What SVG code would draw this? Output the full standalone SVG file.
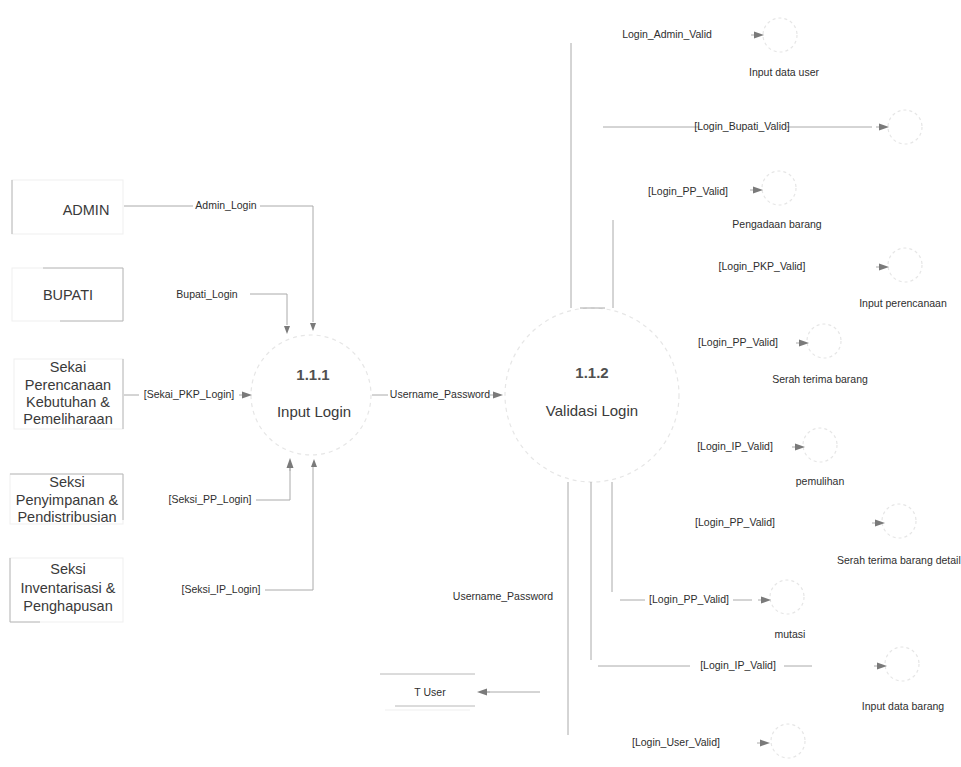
<svg xmlns="http://www.w3.org/2000/svg" width="961" height="767" viewBox="0 0 961 767">
  <style>
    text { font-family: "Liberation Sans", Arial, sans-serif; fill: #2e2e2e; }
    .lbl { font-size: 10.5px; text-anchor: middle; }
    .cap { font-size: 10.5px; text-anchor: middle; }
    .ent { font-size: 14.5px; text-anchor: middle; fill: #3a3a3a; }
    .num { font-size: 15px; text-anchor: middle; font-weight: bold; fill: #505050; }
    .pname { font-size: 15px; text-anchor: middle; fill: #3a3a3a; }
    .ln { fill: none; stroke: #aaa; stroke-width: 1; }
    .side { fill: none; stroke: #b8b8b8; stroke-width: 1; }
    .faint { fill: none; stroke: #efefef; stroke-width: 1; }
    .proc { fill: none; stroke: #e6e6e6; stroke-width: 1.2; stroke-dasharray: 4 4; }
    .mini { fill: none; stroke: #e6e6e6; stroke-width: 1.2; stroke-dasharray: 3 3; }
    .ah { fill: #7a7a7a; }
  </style>
  <defs>
    <!-- arrow head pointing along +x, tip at origin -->
    <g id="ar">
      <path d="M-13,0 H-9" stroke="#aaa" stroke-width="1"/>
      <path class="ah" d="M-10,-3.5 L0,0 L-10,3.5 Z"/>
    </g>
    <path id="arS" class="ah" d="M-8,-3 L0,0 L-8,3 Z"/>
  </defs>

  <!-- external entities -->
  <g id="admin">
    <rect class="faint" x="12" y="180" width="111" height="54"/>
    <path class="side" d="M12,180 V234"/>
    <text class="ent" x="86" y="215">ADMIN</text>
  </g>
  <g id="bupati">
    <rect class="faint" x="12" y="268" width="111" height="53"/>
    <path class="side" d="M43,268 H123 V321 H60"/>
    <text class="ent" x="68" y="300">BUPATI</text>
  </g>
  <g id="seksi-pkp">
    <rect class="faint" x="14" y="359" width="109" height="70"/>
    <path class="side" d="M123,359 V429"/>
    <text class="ent" x="68" y="372">Sekai</text>
    <text class="ent" x="68" y="390">Perencanaan</text>
    <text class="ent" x="68" y="407">Kebutuhan &amp;</text>
    <text class="ent" x="68" y="424">Pemeliharaan</text>
  </g>
  <g id="seksi-pp">
    <rect class="faint" x="10" y="474" width="113" height="50"/>
    <path class="side" d="M10,474 H123 V520"/>
    <text class="ent" x="67" y="487">Seksi</text>
    <text class="ent" x="67" y="505">Penyimpanan &amp;</text>
    <text class="ent" x="67" y="522">Pendistribusian</text>
  </g>
  <g id="seksi-ip">
    <rect class="faint" x="10" y="558" width="113" height="64"/>
    <path class="side" d="M10,558 V622 H40"/>
    <text class="ent" x="68" y="574">Seksi</text>
    <text class="ent" x="68" y="593">Inventarisasi &amp;</text>
    <text class="ent" x="68" y="611">Penghapusan</text>
  </g>

  <!-- processes -->
  <g id="p111">
    <circle class="proc" cx="311" cy="395" r="60"/>
    <text class="num" x="313" y="380">1.1.1</text>
    <text class="pname" x="314" y="417">Input Login</text>
  </g>
  <g id="p112">
    <circle class="proc" cx="592" cy="395" r="87"/>
    <text class="num" x="592" y="378">1.1.2</text>
    <text class="pname" x="592" y="416">Validasi Login</text>
  </g>

  <!-- data store -->
  <g id="t-user">
    <path class="side" d="M380,674 H475 M395,706 H475"/>
    <path class="faint" d="M385,710 H470"/>
    <text class="lbl" x="430" y="696">T User</text>
  </g>

  <!-- target processes of validation -->
  <g id="input-data-user">
    <circle class="mini" cx="780" cy="35" r="17"/>
    <text class="cap" x="784" y="76">Input data user</text>
  </g>
  <g id="bupati-target">
    <circle class="mini" cx="905" cy="127" r="17"/>
  </g>
  <g id="pengadaan-barang">
    <circle class="mini" cx="779" cy="188" r="17"/>
    <text class="cap" x="777" y="228">Pengadaan barang</text>
  </g>
  <g id="input-perencanaan">
    <circle class="mini" cx="905" cy="265" r="17"/>
    <text class="cap" x="903" y="307">Input perencanaan</text>
  </g>
  <g id="serah-terima-barang">
    <circle class="mini" cx="824" cy="341" r="17"/>
    <text class="cap" x="820" y="383">Serah terima barang</text>
  </g>
  <g id="pemulihan">
    <circle class="mini" cx="820" cy="445" r="17"/>
    <text class="cap" x="820" y="485">pemulihan</text>
  </g>
  <g id="serah-terima-detail">
    <circle class="mini" cx="899" cy="521" r="17"/>
    <text class="cap" x="837" y="564" style="text-anchor:start">Serah terima barang detail</text>
  </g>
  <g id="mutasi">
    <circle class="mini" cx="787" cy="597" r="17"/>
    <text class="cap" x="790" y="638">mutasi</text>
  </g>
  <g id="input-data-barang">
    <circle class="mini" cx="902" cy="664" r="17"/>
    <text class="cap" x="903" y="710">Input data barang</text>
  </g>
  <g id="user-target">
    <circle class="mini" cx="788" cy="741" r="17"/>
  </g>

  <!-- data flows -->
  <g id="flows">
    <!-- into 1.1.1 -->
    <path class="ln" d="M124,206 H193 M260,206 H313 V322"/>
    <use href="#arS" transform="translate(313,331) rotate(90)"/>
    <text class="lbl" x="226" y="209">Admin_Login</text>

    <path class="ln" d="M250,294 H287 V325"/>
    <use href="#arS" transform="translate(287,334) rotate(90)"/>
    <text class="lbl" x="207" y="298">Bupati_Login</text>

    <path class="ln" d="M124,395 H139"/>
    <use href="#ar" transform="translate(252,395)"/>
    <text class="lbl" x="189" y="398">[Sekai_PKP_Login]</text>

    <path class="ln" d="M256,500 H290 V468"/>
    <use href="#ar" transform="translate(290,458) rotate(-90)"/>
    <text class="lbl" x="210" y="503">[Seksi_PP_Login]</text>

    <path class="ln" d="M265,590 H313 V467"/>
    <use href="#arS" transform="translate(314,459) rotate(-90)"/>
    <text class="lbl" x="221" y="593">[Seksi_IP_Login]</text>

    <!-- 1.1.1 to 1.1.2 -->
    <path class="ln" d="M372,395 H388"/>
    <use href="#ar" transform="translate(503,395)"/>
    <text class="lbl" x="440" y="398">Username_Password</text>

    <!-- 1.1.2 to T User -->
    <path class="ln" d="M540,692 H486"/>
    <use href="#ar" transform="translate(477,692) rotate(180)"/>
    <text class="lbl" x="503" y="600">Username_Password</text>

    <!-- trunks out of 1.1.2 -->
    <path class="ln" d="M571,43 V308 M613,220 V308 M580,308 H605"/>
    <path class="ln" d="M568,482 V735 M591,482 V660 M612,482 V592"/>

    <!-- validated logins -->
    <use href="#ar" transform="translate(764,35)"/>
    <text class="lbl" x="667" y="38">Login_Admin_Valid</text>

    <path class="ln" d="M603,127 H699 M786,127 H872"/>
    <use href="#ar" transform="translate(889,127)"/>
    <text class="lbl" x="742" y="130">[Login_Bupati_Valid]</text>

    <use href="#ar" transform="translate(763,190)"/>
    <text class="lbl" x="688" y="195">[Login_PP_Valid]</text>

    <use href="#ar" transform="translate(889,267)"/>
    <text class="lbl" x="762" y="270">[Login_PKP_Valid]</text>

    <use href="#ar" transform="translate(809,343)"/>
    <text class="lbl" x="738" y="346">[Login_PP_Valid]</text>

    <use href="#ar" transform="translate(805,447)"/>
    <text class="lbl" x="735" y="450">[Login_IP_Valid]</text>

    <use href="#ar" transform="translate(885,523)"/>
    <text class="lbl" x="735" y="526">[Login_PP_Valid]</text>

    <path class="ln" d="M620,600 H645 M733,600 H752"/>
    <use href="#ar" transform="translate(771,600)"/>
    <text class="lbl" x="689" y="603">[Login_PP_Valid]</text>

    <path class="ln" d="M598,666 H690 M784,666 H812"/>
    <use href="#ar" transform="translate(887,666)"/>
    <text class="lbl" x="738" y="669">[Login_IP_Valid]</text>

    <use href="#ar" transform="translate(770,743)"/>
    <text class="lbl" x="676" y="746">[Login_User_Valid]</text>
  </g>
</svg>
